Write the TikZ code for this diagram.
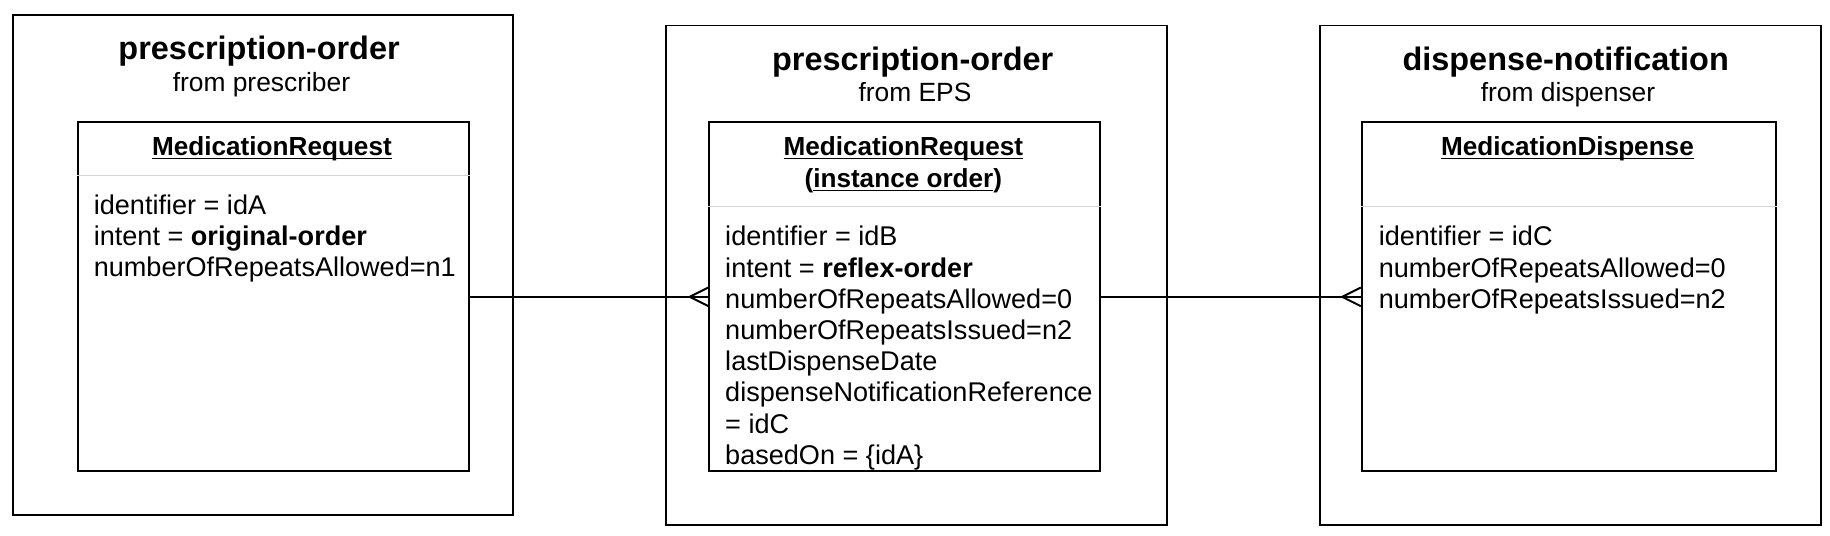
\documentclass[tikz,border=0pt]{standalone}
\usepackage{fontspec}
\setmainfont{Liberation Sans}
\usetikzlibrary{calc}
\newcommand{\clsname}[1]{\underline{\smash{#1}}}
\tikzset{
  msgbox/.style={draw,line width=0.85pt,minimum width=214.5pt,minimum height=214pt,anchor=north west,inner sep=0pt},
  classbox/.style={draw,line width=0.85pt,minimum height=149.5pt,anchor=north west,inner sep=0pt},
  msgtitle/.style={font=\fontsize{13.9}{16}\selectfont\bfseries,anchor=base,inner sep=0pt},
  msgfrom/.style={font=\fontsize{11.3}{13.4}\selectfont,anchor=base,inner sep=0pt},
  clshead/.style={font=\fontsize{11.2}{13.4}\selectfont\bfseries,anchor=base,inner sep=0pt},
  attrs/.style={font=\fontsize{11.6}{13.36}\selectfont,align=left,anchor=north west,inner sep=0pt},
  sepline/.style={draw=black!17,line width=0.45pt},
  link/.style={line width=0.85pt},
}
\begin{document}
\begin{tikzpicture}[x=1pt,y=-1pt]
	\useasboundingbox (0,0) rectangle (784,229.6);
	% messages
	\node[msgbox] (po1) at (5,6) {};
	\node[msgbox] (po2) at (285,10.5) {};
	\node[msgbox] (dn) at (565,10.5) {};
	\node[msgtitle] (po1title) at (111,25.6) {prescription-order};
	\node[msgfrom] (po1from) at (112,39.2) {from prescriber};
	\node[msgtitle] (po2title) at (391,30.1) {prescription-order};
	\node[msgfrom] (po2from) at (392,43.7) {from EPS};
	\node[msgtitle] (dntitle) at (670.75,30.1) {dispense-notification};
	\node[msgfrom] (dnfrom) at (671.75,43.7) {from dispenser};
	% resources
	\node[classbox,minimum width=167.5pt] (mr1) at (33,52) {};
	\node[classbox,minimum width=167.5pt] (mr2) at (303.5,52) {};
	\node[classbox,minimum width=177.5pt] (md) at (583,52) {};
	\node[clshead] (mr1head) at (116.5,66.7) {\clsname{MedicationRequest}};
	\node[clshead] (mr2head) at (387,66.7) {\clsname{MedicationRequest}};
	\node[clshead] (mr2kind) at (387,80.2) {(\clsname{instance order})};
	\node[clshead] (mdhead) at (671.5,66.7) {\clsname{MedicationDispense}};
	\draw[sepline] (mr1.west |- 0,75) -- (mr1.east |- 0,75);
	\draw[sepline] (mr2.west |- 0,88.5) -- (mr2.east |- 0,88.5);
	\draw[sepline] (md.west |- 0,88.5) -- (md.east |- 0,88.5);
	\node[attrs] (mr1attr) at (40,83.25) {identifier = idA\\
		intent = \textbf{original-order}\\
		numberOfRepeatsAllowed=n1};
	\node[attrs] (mr2attr) at (310.5,96.75) {identifier = idB\\
		intent = \textbf{reflex-order}\\
		numberOfRepeatsAllowed=0\\
		numberOfRepeatsIssued=n2\\
		lastDispenseDate\\
		dispenseNotificationReference\\
		= idC\\
		basedOn = \{idA\}};
	\node[attrs] (mdattr) at (590.5,96.75) {identifier = idC\\
		numberOfRepeatsAllowed=0\\
		numberOfRepeatsIssued=n2};
	% links
	\draw[link] (mr1.east) -- (mr2.west);
	\draw[link] ($(mr2.west)+(0,-4)$) -- ++(-8,4) -- ++(8,4);
	\draw[link] (mr2.east) -- (md.west);
	\draw[link] ($(md.west)+(0,-4)$) -- ++(-8,4) -- ++(8,4);
\end{tikzpicture}
\end{document}
